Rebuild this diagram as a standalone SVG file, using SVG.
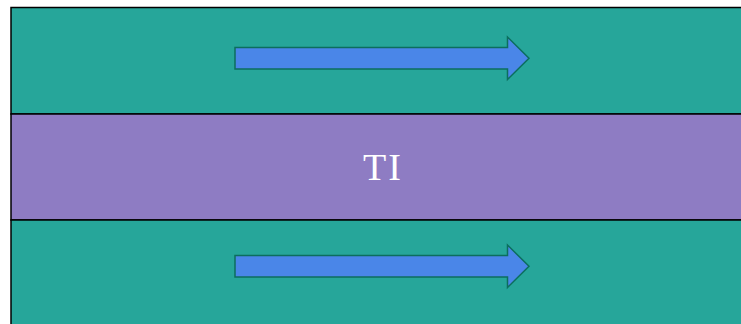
<svg xmlns="http://www.w3.org/2000/svg" width="741" height="324" viewBox="0 0 741 324">
<style>
.band{stroke:#000;stroke-width:1.5}
.teal{fill:#26a69a}
.purple{fill:#8e7cc3}
.arrow{fill:#4a86e8;stroke:#0c6e5e;stroke-width:1.5;stroke-linejoin:miter}
.lbl{font-family:"Liberation Serif","Times New Roman",serif;font-size:38px;fill:#fff}
</style>
<defs>
<polygon id="arr" class="arrow" points="235,47.5 507.5,47.5 507.5,37 529,58.3 507.5,79.5 507.5,69 235,69"/>
</defs>
<g id="top-band"><rect class="band teal" x="11" y="7.5" width="740" height="106.5"/></g>
<g id="middle-band"><rect class="band purple" x="11" y="114" width="740" height="106"/>
<text class="lbl" x="383" y="180" text-anchor="middle" letter-spacing="2">TI</text></g>
<g id="bottom-band"><rect class="band teal" x="11" y="220" width="740" height="120"/></g>
<g id="connectors">
<use href="#arr"/>
<use href="#arr" transform="translate(0,208)"/>
</g>
</svg>
